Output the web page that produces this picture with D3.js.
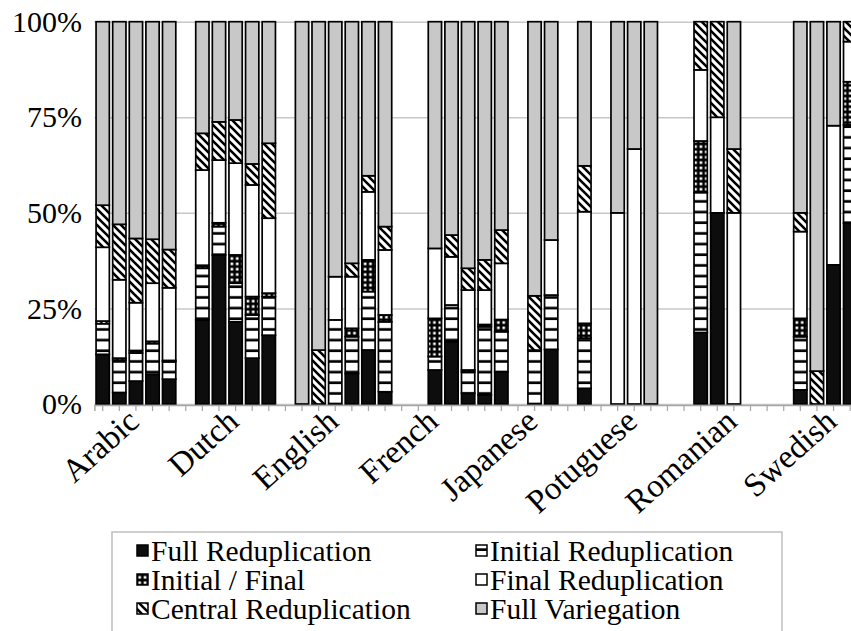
<!DOCTYPE html>
<html>
<head>
<meta charset="utf-8">
<script src="https://cdn.jsdelivr.net/npm/d3@7"></script>
<style>
  body { margin: 0; background: #fff; }
</style>
</head>
<body>
<div class="chart"></div>
<script>
// one slot per bar, blanks between the language groups
const slotLabels = [
  '', '', 'Arabic', '', '', '',
  '', '', 'Dutch', '', '', '',
  '', '', 'English', '', '', '',
  '', '', 'French', '', '', '',
  '', '', 'Japanese', '', '', '',
  '', '', 'Potuguese', '', '', '',
  '', '', 'Romanian', '', '', '',
  '', '', 'Swedish', ''
]

const keys = ['full', 'initial', 'initFinal', 'final', 'central', 'variegation']
const legendNames = ['Full Reduplication', 'Initial Reduplication', 'Initial / Final',
  'Final Reduplication', 'Central Reduplication', 'Full Variegation']

// percentages, null = empty slot
const full =        [13, 3, 6, 7.8, 6.5, null, 22, 39, 21.5, 12, 18, null, 0, 0, 0, 8, 14.1, 3.2, null, null, 8.9, 16.3, 2.8, 2.4, 8.4, null, 0, 14.3, null, 4.1, null, 0, 0, 0, null, null, 18.7, 50, 0, null, null, null, 3.7, 0, 36.4, 47.3]
const initial =     [8, 8.5, 7.3, 8, 4.6, null, 13.5, 7.4, 10.1, 11.3, 10.1, null, 0, 0, 22, 9.6, 15.3, 18.3, null, null, 3.5, 9.6, 5.6, 17.8, 10.5, null, 14.1, 14.2, null, 13.1, null, 0, 0, 0, null, null, 36.6, 0, 0, null, null, null, 13.9, 0, 0, 25.7]
const initFinal =   [0.7, 0.5, 0.7, 0.6, 0.3, null, 0.8, 1, 7.4, 4.8, 0.9, null, 0, 0, 0, 2.2, 8.3, 1.8, null, null, 10, 0, 0.5, 0.6, 3.2, null, 0, 0, null, 3.9, null, 0, 0, 0, null, null, 13.5, 0, 0, null, null, null, 4.8, 0, 0, 11.3]
const final =       [19.3, 20.5, 12.5, 15.2, 19, null, 24.9, 16.4, 24, 29.2, 19.6, null, 0, 0, 11.3, 13.5, 17.8, 17, null, null, 18.3, 12.6, 20.9, 9, 14.7, null, 0, 14.4, null, 29.2, null, 50, 66.7, 0, null, null, 18.6, 25, 50, null, null, null, 22.7, 0, 36.4, 10.5]
const central =     [11, 14.5, 16.8, 11.5, 10, null, 9.6, 10, 11.3, 5.5, 19.6, null, 0, 14.1, 0, 3.5, 4.2, 6.1, null, null, 0, 5.7, 5.7, 7.9, 8.7, null, 14.2, 0, null, 12, null, 0, 0, 0, null, null, 12.6, 25, 16.7, null, null, null, 4.9, 8.6, 0, 5.2]
const variegation = [48, 53, 56.7, 56.9, 59.6, null, 29.2, 26.2, 25.7, 37.2, 31.8, null, 100, 85.9, 66.7, 63.2, 40.3, 53.6, null, null, 59.3, 55.8, 64.5, 62.3, 54.5, null, 71.7, 57.1, null, 37.7, null, 50, 33.3, 100, null, null, 0, 0, 33.3, null, null, null, 50, 91.4, 27.2, 0]

const yTicks = [0, 0.25, 0.5, 0.75, 1]

// SETUP
// ----------------------------
const fullWidth = 851
const fullHeight = 631
const plot = { left: 94.4, top: 21.7, bottom: 404, step: 16.61 }
const serif = 'Liberation Serif'

const svg = d3.select('.chart')
  .append('svg')
    .attr('width', fullWidth)
    .attr('height', fullHeight)

const defs = svg.append('defs')

// horizontal stripes
const pStripe = defs.append('pattern').attr('id', 'p-initial')
  .attr('patternUnits', 'userSpaceOnUse').attr('width', 8).attr('height', 10.67)
pStripe.append('rect').attr('width', 8).attr('height', 10.67).attr('fill', '#fff')
pStripe.append('rect').attr('y', 8).attr('width', 8).attr('height', 2.67).attr('fill', '#000')

// black with white dots
const pDots = defs.append('pattern').attr('id', 'p-initFinal')
  .attr('patternUnits', 'userSpaceOnUse').attr('width', 5.33).attr('height', 5.33)
pDots.append('rect').attr('width', 5.33).attr('height', 5.33).attr('fill', '#000')
pDots.append('rect').attr('x', 1.4).attr('y', 1.4).attr('width', 2.6).attr('height', 2.6).attr('fill', '#fff')

// downward diagonal
const pHatch = defs.append('pattern').attr('id', 'p-central')
  .attr('patternUnits', 'userSpaceOnUse').attr('width', 8).attr('height', 8)
pHatch.append('rect').attr('width', 8).attr('height', 8).attr('fill', '#fff')
pHatch.append('path').attr('d', 'M-2,-2L10,10M-2,6L2,10M6,-2L10,2')
  .attr('stroke', '#000').attr('stroke-width', 2.6)

const fills = {
  full: '#0d0d0d',
  initial: 'url(#p-initial)',
  initFinal: 'url(#p-initFinal)',
  final: '#fff',
  central: 'url(#p-central)',
  variegation: '#c8c8c8'
}
// ----------------------------
// [END] SETUP


// SCALES
// ----------------------------
const slots = d3.range(slotLabels.length)
const xScale = d3.scaleBand()
  .domain(slots)
  .range([plot.left, plot.left + plot.step * slots.length])
  .paddingInner(0.2)
  .paddingOuter(0.1)

const yScale = d3.scaleLinear()
  .domain([0, 1])
  .range([plot.bottom, plot.top])

// gridlines + y labels
const yAxis = d3.axisLeft(yScale)
  .tickValues(yTicks)
  .tickFormat(d3.format('.0%'))
  .tickSize(-(xScale.range()[1] - plot.left))
  .tickPadding(12)
const gy = svg.append('g')
  .attr('transform', `translate(${plot.left}, 0)`)
  .call(yAxis)
gy.select('.domain').remove()
gy.selectAll('.tick line').attr('stroke', '#c8c8c8').attr('stroke-width', 1.5)
gy.selectAll('.tick text')
  .attr('font-family', serif)
  .attr('font-size', 30)
  .attr('x', 82 - plot.left)
  .attr('fill', '#000')
// ----------------------------


// BARS
// ----------------------------
const table = slots.map(i => ({
  slot: i,
  full: full[i], initial: initial[i], initFinal: initFinal[i],
  final: final[i], central: central[i], variegation: variegation[i]
})).filter(d => d.full !== null)

const series = d3.stack()
  .keys(keys)
  .offset(d3.stackOffsetExpand)(table)

svg.append('g')
  .selectAll('g')
  .data(series)
  .join('g')
    .attr('fill', s => fills[s.key])
  .selectAll('rect')
  .data(s => s.filter(d => d[1] - d[0] > 0))
  .join('rect')
    .attr('x', d => xScale(d.data.slot))
    .attr('y', d => yScale(d[1]))
    .attr('width', xScale.bandwidth())
    .attr('height', d => yScale(d[0]) - yScale(d[1]))
    .attr('stroke', '#000')
    .attr('stroke-width', 1.7)
// ----------------------------


// X AXIS
// ----------------------------
const xAxis = d3.axisBottom(xScale)
  .tickSize(6)
  .tickFormat('')
const gx = svg.append('g')
  .attr('transform', `translate(0, ${plot.bottom + 1})`)
  .call(xAxis)
gx.select('.domain').attr('stroke', '#a6a6a6').attr('stroke-width', 1.5)
gx.selectAll('.tick line').attr('stroke', '#a6a6a6').attr('stroke-width', 1.2)

svg.append('g')
  .selectAll('text')
  .data(slots.filter(i => slotLabels[i]))
  .join('text')
    .attr('transform', i => `translate(${xScale(i) + xScale.bandwidth() / 2 + 5}, 424) rotate(-42)`)
    .attr('text-anchor', 'end')
    .attr('font-family', serif)
    .attr('font-size', 33)
    .attr('fill', '#000')
    .text(i => slotLabels[i])
// ----------------------------


// LEGEND
// ----------------------------
svg.append('rect')
  .attr('x', 112).attr('y', 532)
  .attr('width', 670).attr('height', 120)
  .attr('fill', '#fff')
  .attr('stroke', '#bfbfbf')
  .attr('stroke-width', 1.5)

const legend = svg.append('g')
  .selectAll('g')
  .data(keys)
  .join('g')
    .attr('transform', (k, i) => `translate(${i % 2 ? 476 : 137}, ${551 + Math.floor(i / 2) * 29})`)
legend.append('rect')
  .attr('x', 0).attr('y', -6)
  .attr('width', 11).attr('height', 11)
  .attr('fill', k => fills[k])
  .attr('stroke', '#000')
  .attr('stroke-width', 1.5)
legend.append('text')
  .attr('x', 14)
  .attr('y', 10)
  .attr('font-family', serif)
  .attr('font-size', 29.5)
  .attr('fill', '#000')
  .text((k, i) => legendNames[i])
// ----------------------------
</script>
</body>
</html>
